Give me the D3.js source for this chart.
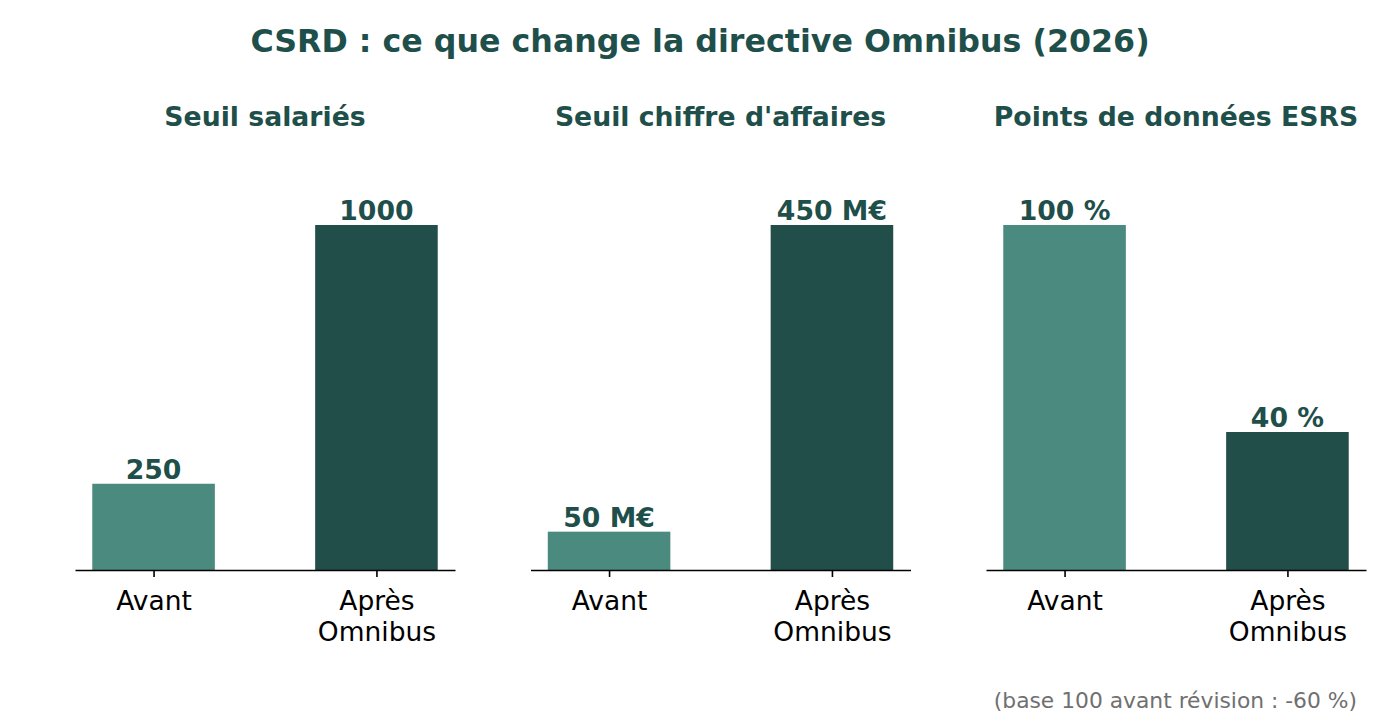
<!DOCTYPE html>
<html>
<head>
<meta charset="utf-8">
<script src="https://cdn.jsdelivr.net/npm/d3@7"></script>
<style>
  body { margin: 0; background: #fff; }
  text { font-family: "DejaVu Sans", sans-serif; }
</style>
</head>
<body>
<svg id="chart" width="1400" height="724"></svg>
<script>
// data
const categories = ["Avant", "Après\nOmnibus"];
const panelTitles = ["Seuil salariés", "Seuil chiffre d'affaires", "Points de données ESRS"];
const salariesValues = [250, 1000];
const salariesLabels = ["250", "1000"];
const revenueValues = [50, 450];
const revenueLabels = ["50 M€", "450 M€"];
const esrsValues = [100, 40];
const esrsLabels = ["100 %", "40 %"];
const barColors = ["#4b8a7e", "#224e4a"];

const panels = [
    { title: panelTitles[0], values: salariesValues, labels: salariesLabels },
    { title: panelTitles[1], values: revenueValues, labels: revenueLabels },
    { title: panelTitles[2], values: esrsValues, labels: esrsLabels }
];

const svg = d3.select("#chart");
const titleColor = "#1f4f4a";

svg.append("text")
    .attr("x", 700).attr("y", 52)
    .attr("text-anchor", "middle")
    .attr("font-size", 31.7).attr("font-weight", "bold")
    .attr("fill", titleColor)
    .text("CSRD : ce que change la directive Omnibus (2026)");

const panelW = 380, gap = 75.5, left0 = 75;
const baseY = 570, topY = 173.25;
const barW = 0.55;

panels.forEach((p, i) => {
    let x0 = left0 + i * (panelW + gap);
    let g = svg.append("g").attr("transform", "translate(" + x0 + ",0)");

    let x = d3.scaleLinear().domain([-0.3525, 1.3525]).range([0, panelW]);
    let y = d3.scaleLinear().domain([0, d3.max(p.values) * 1.15]).range([baseY, topY]);

    g.append("text")
        .attr("x", panelW / 2).attr("y", 126)
        .attr("text-anchor", "middle")
        .attr("font-size", 26.7).attr("font-weight", "bold")
        .attr("fill", titleColor)
        .text(p.title);

    g.selectAll("rect.bar")
        .data(p.values)
        .enter().append("rect")
        .attr("class", "bar")
        .attr("x", (d, j) => x(j - barW / 2))
        .attr("width", (d, j) => x(barW) - x(0))
        .attr("y", d => y(d))
        .attr("height", d => baseY - y(d))
        .attr("fill", (d, j) => barColors[j]);

    g.selectAll("text.val")
        .data(p.values)
        .enter().append("text")
        .attr("class", "val")
        .attr("x", (d, j) => x(j))
        .attr("y", d => y(d) - 5)
        .attr("text-anchor", "middle")
        .attr("font-size", 26.7).attr("font-weight", "bold")
        .attr("fill", titleColor)
        .text((d, j) => p.labels[j]);

    let axis = d3.axisBottom(x)
        .tickValues([0, 1])
        .tickSize(7)
        .tickSizeOuter(0)
        .tickPadding(6)
        .tickFormat(() => "");

    let ax = g.append("g")
        .attr("transform", "translate(0," + baseY + ")")
        .call(axis);
    ax.select(".domain").attr("stroke", "#000").attr("stroke-width", 1.6);
    ax.selectAll(".tick line").attr("stroke", "#000").attr("stroke-width", 1.6);

    // multi-line tick labels
    ax.selectAll(".tick").each(function(d) {
        let t = d3.select(this).select("text")
            .attr("font-size", 26.5)
            .attr("fill", "#000")
            .attr("y", 0).attr("dy", null);
        categories[d].split("\n").forEach((line, k) => {
            t.append("tspan")
                .attr("x", 0)
                .attr("y", 39.5 + k * 31)
                .text(line);
        });
    });
});

svg.append("text")
    .attr("x", 1357).attr("y", 708)
    .attr("text-anchor", "end")
    .attr("font-size", 21.8)
    .attr("fill", "#707070")
    .text("(base 100 avant révision : -60 %)");
</script>
</body>
</html>
